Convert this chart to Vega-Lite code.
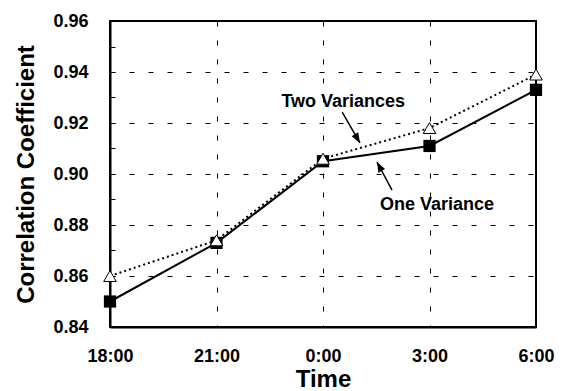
{
  "$schema": "https://vega.github.io/schema/vega-lite/v6.json",
  "width": 426,
  "height": 306,
  "autosize": {"type": "none"},
  "padding": {"left": 110, "top": 21, "right": 25, "bottom": 64},
  "background": "white",
  "config": {
    "font": "Liberation Sans",
    "view": {"stroke": "black", "strokeWidth": 2},
    "axis": {
      "labelFont": "Liberation Sans",
      "labelFontWeight": "bold",
      "labelFontSize": 18,
      "labelColor": "black",
      "titleFont": "Liberation Sans",
      "titleFontWeight": "bold",
      "titleFontSize": 24,
      "titleColor": "black",
      "domainColor": "black",
      "domainWidth": 2,
      "tickColor": "black",
      "tickWidth": 1,
      "gridColor": "black",
      "gridWidth": 1,
      "gridDash": [5, 14]
    }
  },
  "datasets": {
    "series": [
      {"t": 0, "series": "One Variance", "r": 0.850},
      {"t": 1, "series": "One Variance", "r": 0.873},
      {"t": 2, "series": "One Variance", "r": 0.905},
      {"t": 3, "series": "One Variance", "r": 0.911},
      {"t": 4, "series": "One Variance", "r": 0.933},
      {"t": 0, "series": "Two Variances", "r": 0.860},
      {"t": 1, "series": "Two Variances", "r": 0.874},
      {"t": 2, "series": "Two Variances", "r": 0.906},
      {"t": 3, "series": "Two Variances", "r": 0.918},
      {"t": 4, "series": "Two Variances", "r": 0.939}
    ],
    "notes": [
      {"label": "Two Variances", "t": 2.19, "r": 0.9282},
      {"label": "One Variance", "t": 3.07, "r": 0.8878}
    ],
    "arrows": [
      {"arrow": "two", "t": 2.18, "r": 0.9243, "t2": 2.347, "r2": 0.9122},
      {"arrow": "one", "t": 2.648, "r": 0.8937, "t2": 2.507, "r2": 0.9047}
    ]
  },
  "encoding": {
    "x": {
      "field": "t", "type": "quantitative",
      "scale": {"domain": [0, 4], "nice": false, "zero": false},
      "axis": {
        "title": "Time",
        "values": [0, 1, 2, 3, 4],
        "labelExpr": "['18:00','21:00','0:00','3:00','6:00'][datum.value]",
        "tickSize": 0,
        "labelPadding": 20,
        "titlePadding": 2,
        "grid": true,
        "labelFlush": false
      }
    },
    "y": {
      "field": "r", "type": "quantitative",
      "scale": {"domain": [0.84, 0.96], "nice": false, "zero": false},
      "axis": {
        "title": "Correlation Coefficient",
        "values": [0.84, 0.85, 0.86, 0.87, 0.88, 0.89, 0.90, 0.91, 0.92, 0.93, 0.94, 0.95, 0.96],
        "labelExpr": "round(datum.value*100)%2==0 ? format(datum.value,'.2f') : ''",
        "tickSize": -5,
        "labelPadding": 27,
        "titlePadding": 14,
        "grid": true,
        "gridOpacity": {"condition": {"test": "round(datum.value*100)%2==0", "value": 1}, "value": 0},
        "labelFlush": false
      }
    }
  },
  "layer": [
    {
      "data": {"name": "series"},
      "transform": [{"filter": "datum.series == 'Two Variances'"}],
      "mark": {"type": "line", "color": "black", "strokeWidth": 2, "strokeDash": [2, 3]},
      "encoding": {}
    },
    {
      "data": {"name": "series"},
      "transform": [{"filter": "datum.series == 'One Variance'"}],
      "mark": {"type": "line", "color": "black", "strokeWidth": 2},
      "encoding": {}
    },
    {
      "data": {"name": "series"},
      "transform": [{"filter": "datum.series == 'One Variance'"}],
      "mark": {"type": "point", "shape": "square", "filled": true, "color": "black", "opacity": 1, "size": 150},
      "encoding": {}
    },
    {
      "data": {"name": "series"},
      "transform": [{"filter": "datum.series == 'Two Variances'"}],
      "mark": {"type": "point", "shape": "triangle-up", "fill": "white", "stroke": "black", "strokeWidth": 1, "opacity": 1, "fillOpacity": 1, "size": 160},
      "encoding": {}
    },
    {
      "data": {"name": "notes"},
      "mark": {"type": "text", "font": "Liberation Sans", "fontWeight": "bold", "fontSize": 18, "color": "black"},
      "encoding": {"text": {"field": "label"}}
    },
    {
      "data": {"name": "arrows"},
      "mark": {"type": "rule", "color": "black", "strokeWidth": 1.5},
      "encoding": {"x2": {"field": "t2"}, "y2": {"field": "r2"}}
    },
    {
      "data": {"name": "arrows"},
      "transform": [{"filter": "datum.arrow == 'two'"}],
      "mark": {"type": "point", "shape": "M0,0 L-0.38,1 L0.38,1 Z", "filled": true, "color": "black", "opacity": 1, "size": 400, "angle": 150},
      "encoding": {"x": {"field": "t2", "type": "quantitative"}, "y": {"field": "r2", "type": "quantitative"}}
    },
    {
      "data": {"name": "arrows"},
      "transform": [{"filter": "datum.arrow == 'one'"}],
      "mark": {"type": "point", "shape": "M0,0 L-0.38,1 L0.38,1 Z", "filled": true, "color": "black", "opacity": 1, "size": 400, "angle": 332},
      "encoding": {"x": {"field": "t2", "type": "quantitative"}, "y": {"field": "r2", "type": "quantitative"}}
    }
  ]
}
